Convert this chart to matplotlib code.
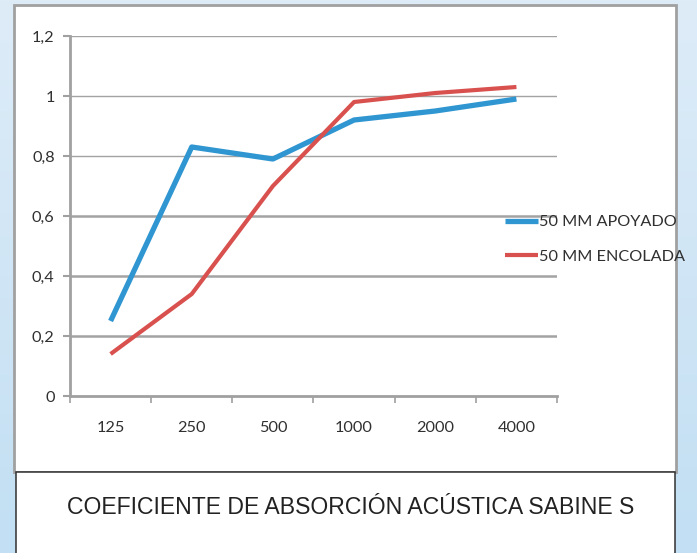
import numpy as np
import matplotlib
matplotlib.use("Agg")
import matplotlib.pyplot as plt
from matplotlib.patches import Rectangle
from matplotlib.ticker import FixedLocator, FuncFormatter

# ---- data ----
frequencies = ["125", "250", "500", "1000", "2000", "4000"]
apoyado = [0.25, 0.83, 0.79, 0.92, 0.95, 0.99]
encolada = [0.14, 0.34, 0.70, 0.98, 1.01, 1.03]
series_labels = ["50 MM APOYADO", "50 MM ENCOLADA"]
y_ticks = [0, 0.2, 0.4, 0.6, 0.8, 1.0, 1.2]
title_text = "COEFICIENTE DE ABSORCIÓN ACÚSTICA SABINE S"

W, H = 697, 553
fig = plt.figure(figsize=(W / 100, H / 100), dpi=100)

# background axes in pixel coordinates
bg = fig.add_axes([0, 0, 1, 1], zorder=0)
bg.set_xlim(0, W)
bg.set_ylim(H, 0)
bg.axis("off")
grad = np.linspace(0, 1, 256)[:, None]
top = np.array([0xde, 0xec, 0xf8]) / 255
bot = np.array([0xc2, 0xdf, 0xf3]) / 255
img = top[None, None, :] * (1 - grad[:, :, None]) + bot[None, None, :] * grad[:, :, None]
bg.imshow(img, extent=[0, W, H, 0], aspect="auto", zorder=0)
bg.add_patch(Rectangle((14, 5), 662, 467, facecolor="white", edgecolor="#a0a0a0", lw=2.0, zorder=1))
bg.add_patch(Rectangle((15.5, 472), 659.5, 100, facecolor="white", edgecolor="#303030", lw=1.1, zorder=2))
bg.text(350.5, 507, title_text, ha="center", va="center", fontsize=16.55,
        family="Liberation Sans", color="#222222", zorder=3)

# main axes
left, right, y0, y1 = 70, 557, 396, 36
ax = fig.add_axes([left / W, 1 - y0 / H, (right - left) / W, (y0 - y1) / H], zorder=2)
ax.patch.set_alpha(0)
x = np.arange(len(frequencies))
ax.plot(x, apoyado, color="#2f96d1", lw=3.8, solid_capstyle="butt", solid_joinstyle="round",
        label=series_labels[0], zorder=3)
ax.plot(x, encolada, color="#d9514e", lw=3.0, solid_capstyle="butt", solid_joinstyle="round",
        label=series_labels[1], zorder=3)

ax.set_xlim(-0.5, len(frequencies) - 0.5)
ax.set_ylim(0, 1.2)
ax.set_yticks(y_ticks)
ax.yaxis.set_major_formatter(FuncFormatter(lambda v, p: ("%g" % round(v, 1)).replace(".", ",")))
ax.set_xticks(x)
ax.set_xticklabels(frequencies)
ax.xaxis.set_minor_locator(FixedLocator(np.arange(-0.5, len(frequencies), 1.0)))

font = "Lato"
fs = 11.7
ax.tick_params(axis="x", which="major", length=0, pad=18, labelsize=fs, labelcolor="#303030")
ax.tick_params(axis="x", which="minor", length=5, width=1.2, color="#a0a0a0", direction="out")
ax.tick_params(axis="y", which="major", length=5, width=1.5, color="#a0a0a0", pad=6,
               labelsize=fs, labelcolor="#303030")
for lab in ax.get_xticklabels() + ax.get_yticklabels():
    lab.set_family(font)

for s in ["top", "right"]:
    ax.spines[s].set_visible(False)
for s in ["left", "bottom"]:
    ax.spines[s].set_color("#a0a0a0")
    ax.spines[s].set_linewidth(2.0)

# gridlines
for yv in y_ticks[1:]:
    lw = 1.0 if yv >= 0.8 else 1.8
    ax.axhline(yv, color="#a3a3a3", lw=lw, zorder=1)

leg = fig.legend(loc="center left", bbox_to_anchor=(505 / W, 1 - 239.5 / H), frameon=False,
                 handlelength=2.0, handletextpad=0.1, labelspacing=1.25, borderpad=0,
                 borderaxespad=0, prop={"family": font, "size": fs})
for t in leg.get_texts():
    t.set_color("#303030")
leg.set_zorder(5)

fig.savefig("out.png", dpi=100)
